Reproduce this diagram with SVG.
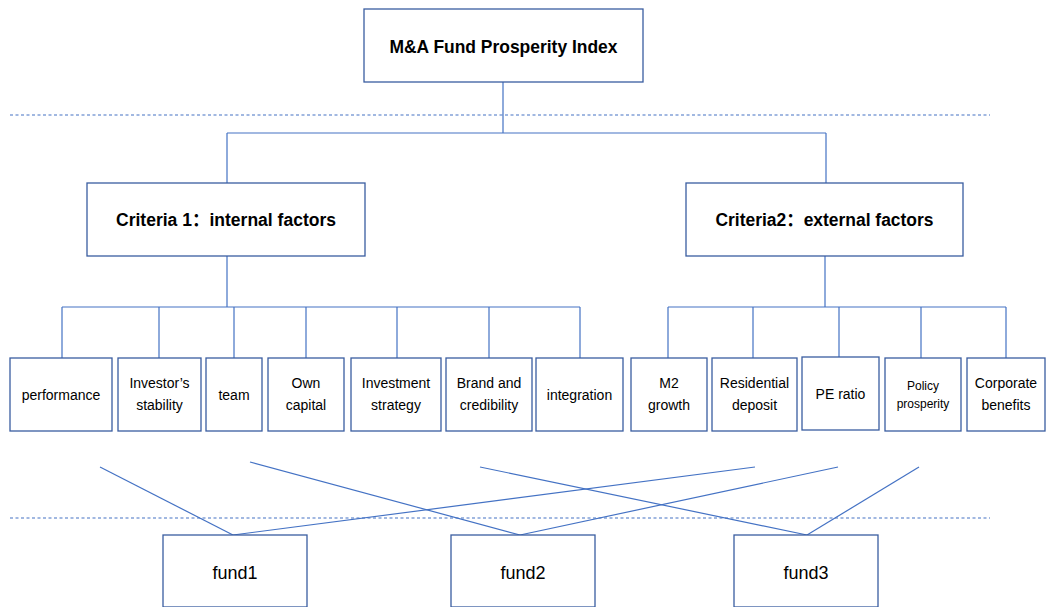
<svg xmlns="http://www.w3.org/2000/svg" width="1046" height="607" viewBox="0 0 1046 607">
<style>
.box{fill:#fff;stroke:#3A5DA0;stroke-width:1.3}
.con{fill:none;stroke:#4472C4;stroke-width:1.2}
.dash{fill:none;stroke:#4472C4;stroke-width:1.2;stroke-dasharray:3 2.5}
text{font-family:"Liberation Sans","Noto Sans CJK SC",sans-serif;fill:#000;text-anchor:middle}
.t{font-size:14px}
.s{font-size:12px}
.h{font-size:19px;font-weight:bold}
.c{font-size:18px;font-weight:bold}
.f{font-size:18px}
</style>
<rect width="1046" height="607" fill="#fff"/>
<g id="connectors">
<line class="dash" x1="10" y1="115" x2="990" y2="115"/>
<line class="dash" x1="10" y1="518" x2="990" y2="518"/>
<path class="con" d="M503 82V133M227 133H826M227 133V183M826 133V183"/>
<path class="con" d="M227 256V307M62 307H580M62 307V358M159 307V358M234 307V358M306 307V358M397 307V358M489 307V358M580 307V358"/>
<path class="con" d="M825 256V307M668 307H1006M668 307V358M753 307V358M839 307V358M921 307V358M1006 307V358"/>
<line class="con" x1="100" y1="467" x2="233" y2="535"/>
<line class="con" x1="250" y1="462" x2="520" y2="535"/>
<line class="con" x1="480" y1="467" x2="807" y2="535"/>
<line class="con" x1="755" y1="467" x2="233" y2="535"/>
<line class="con" x1="838" y1="467" x2="520" y2="535"/>
<line class="con" x1="919" y1="467" x2="807" y2="535"/>
</g>
<g id="root"><rect class="box" x="364" y="9" width="279" height="73"/><text class="h" x="503.5" y="53" textLength="228" lengthAdjust="spacingAndGlyphs">M&amp;A Fund Prosperity Index</text></g>
<g id="criteria1"><rect class="box" x="87" y="183" width="278" height="73"/><text class="c" x="226" y="226" textLength="220" lengthAdjust="spacingAndGlyphs">Criteria 1：internal factors</text></g>
<g id="criteria2"><rect class="box" x="686" y="183" width="277" height="73"/><text class="c" x="824.5" y="226" textLength="218" lengthAdjust="spacingAndGlyphs">Criteria2：external factors</text></g>
<g id="performance"><rect class="box" x="10" y="358" width="102" height="73"/><text class="t" x="61" y="399.5">performance</text></g>
<g id="investor"><rect class="box" x="118" y="358" width="83" height="73"/><text class="t" x="159.5" y="388">Investor’s</text><text class="t" x="159.5" y="410">stability</text></g>
<g id="team"><rect class="box" x="206" y="358" width="56" height="73"/><text class="t" x="234" y="399.5">team</text></g>
<g id="own"><rect class="box" x="268" y="358" width="76" height="73"/><text class="t" x="306" y="388">Own</text><text class="t" x="306" y="410">capital</text></g>
<g id="strategy"><rect class="box" x="351" y="358" width="90" height="73"/><text class="t" x="396" y="388">Investment</text><text class="t" x="396" y="410">strategy</text></g>
<g id="brand"><rect class="box" x="446" y="358" width="86" height="73"/><text class="t" x="489" y="388">Brand and</text><text class="t" x="489" y="410">credibility</text></g>
<g id="integration"><rect class="box" x="536" y="358" width="87" height="73"/><text class="t" x="579.5" y="399.5">integration</text></g>
<g id="m2"><rect class="box" x="631" y="358" width="76" height="73"/><text class="t" x="669" y="388">M2</text><text class="t" x="669" y="410">growth</text></g>
<g id="deposit"><rect class="box" x="712" y="358" width="85" height="73"/><text class="t" x="754.5" y="388">Residential</text><text class="t" x="754.5" y="410">deposit</text></g>
<g id="pe"><rect class="box" x="802" y="357" width="77" height="73"/><text class="t" x="840.5" y="399">PE ratio</text></g>
<g id="policy"><rect class="box" x="885" y="358" width="76" height="73"/><text class="s" x="923" y="390">Policy</text><text class="s" x="923" y="408">prosperity</text></g>
<g id="corporate"><rect class="box" x="967" y="358" width="78" height="73"/><text class="t" x="1006" y="388">Corporate</text><text class="t" x="1006" y="410">benefits</text></g>
<g id="fund1"><rect class="box" x="163" y="535" width="144" height="72"/><text class="f" x="235" y="579">fund1</text></g>
<g id="fund2"><rect class="box" x="451" y="535" width="144" height="72"/><text class="f" x="523" y="579">fund2</text></g>
<g id="fund3"><rect class="box" x="734" y="535" width="144" height="72"/><text class="f" x="806" y="579">fund3</text></g>
</svg>
